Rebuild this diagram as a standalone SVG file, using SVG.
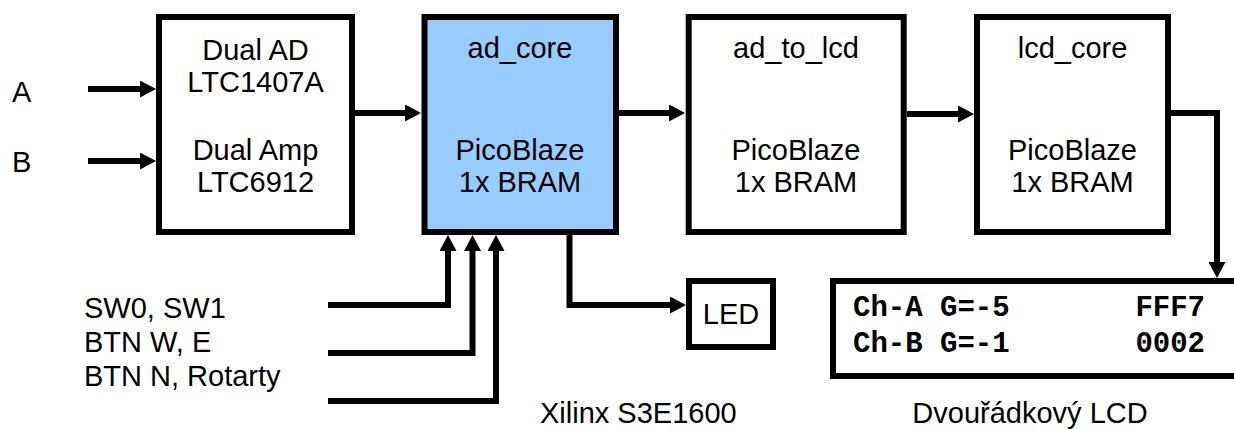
<svg xmlns="http://www.w3.org/2000/svg" width="1234" height="429" viewBox="0 0 1234 429">
<style>
.box{fill:#fff;stroke:#000;stroke-width:6}
.blue{fill:#99CCFF}
.t{font-family:"Liberation Sans",Arial,sans-serif;font-size:29px;fill:#000}
.c{text-anchor:middle}
.m{font-family:"Liberation Mono","Courier New",monospace;font-weight:bold;font-size:29px;fill:#000}
.w{fill:none;stroke:#000;stroke-width:6;stroke-linejoin:miter;stroke-linecap:butt}
</style>
<defs>
<marker id="ah" markerUnits="userSpaceOnUse" markerWidth="16" markerHeight="17" refX="4" refY="8.5" orient="auto" viewBox="0 0 16 17">
<path d="M0,0 L16,8.5 L0,17 z" fill="#000"/>
</marker>
</defs>
<rect width="1234" height="429" fill="#fff"/>
<g id="lbl-a"><text class="t" x="12" y="102">A</text></g>
<g id="lbl-b"><text class="t" x="12" y="172">B</text></g>
<g id="adc">
<rect class="box" x="159" y="17" width="193" height="215"/>
<text class="t c" x="255.5" y="60">Dual AD</text>
<text class="t c" x="255.5" y="92">LTC1407A</text>
<text class="t c" x="255.5" y="160">Dual Amp</text>
<text class="t c" x="255.5" y="192">LTC6912</text>
</g>
<g id="ad_core">
<rect class="box blue" x="424.5" y="17" width="191.5" height="215"/>
<text class="t c" x="520" y="58">ad_core</text>
<text class="t c" x="520" y="160">PicoBlaze</text>
<text class="t c" x="520" y="192">1x BRAM</text>
</g>
<g id="ad_to_lcd">
<rect class="box" x="688.7" y="17" width="215" height="215"/>
<text class="t c" x="796" y="58">ad_to_lcd</text>
<text class="t c" x="796" y="160">PicoBlaze</text>
<text class="t c" x="796" y="192">1x BRAM</text>
</g>
<g id="lcd_core">
<rect class="box" x="977" y="17" width="191" height="215"/>
<text class="t c" x="1072.5" y="58">lcd_core</text>
<text class="t c" x="1072.5" y="160">PicoBlaze</text>
<text class="t c" x="1072.5" y="192">1x BRAM</text>
</g>
<g id="led">
<rect class="box" x="689" y="281" width="84" height="66"/>
<text class="t c" x="731" y="324">LED</text>
</g>
<g id="lcd">
<rect class="box" x="833" y="281" width="420" height="95"/>
<text class="m" x="853" y="316">Ch-A G=-5</text>
<text class="m" x="853" y="352">Ch-B G=-1</text>
<text class="m" x="1205" y="316" text-anchor="end">FFF7</text>
<text class="m" x="1205" y="352" text-anchor="end">0002</text>
</g>
<g id="inputs">
<text class="t" x="84" y="318">SW0, SW1</text>
<text class="t" x="84" y="352">BTN W, E</text>
<text class="t" x="84" y="386">BTN N, Rotarty</text>
</g>
<g id="captions">
<text class="t" x="540" y="423">Xilinx S3E1600</text>
<text class="t c" x="1030" y="423">Dvouřádkový LCD</text>
</g>
<g id="connectors">
<path class="w" d="M88,89 H144" marker-end="url(#ah)"/>
<path class="w" d="M88,161 H144" marker-end="url(#ah)"/>
<path class="w" d="M355,113 H409" marker-end="url(#ah)"/>
<path class="w" d="M619,113 H673" marker-end="url(#ah)"/>
<path class="w" d="M907,114 H962" marker-end="url(#ah)"/>
<path class="w" d="M1171,113 H1217 V266" marker-end="url(#ah)"/>
<path class="w" d="M328,305 H448 V247" marker-end="url(#ah)"/>
<path class="w" d="M328,353 H472.5 V247" marker-end="url(#ah)"/>
<path class="w" d="M328,401 H496 V247" marker-end="url(#ah)"/>
<path class="w" d="M569.5,235 V305 H674" marker-end="url(#ah)"/>
</g>
</svg>
